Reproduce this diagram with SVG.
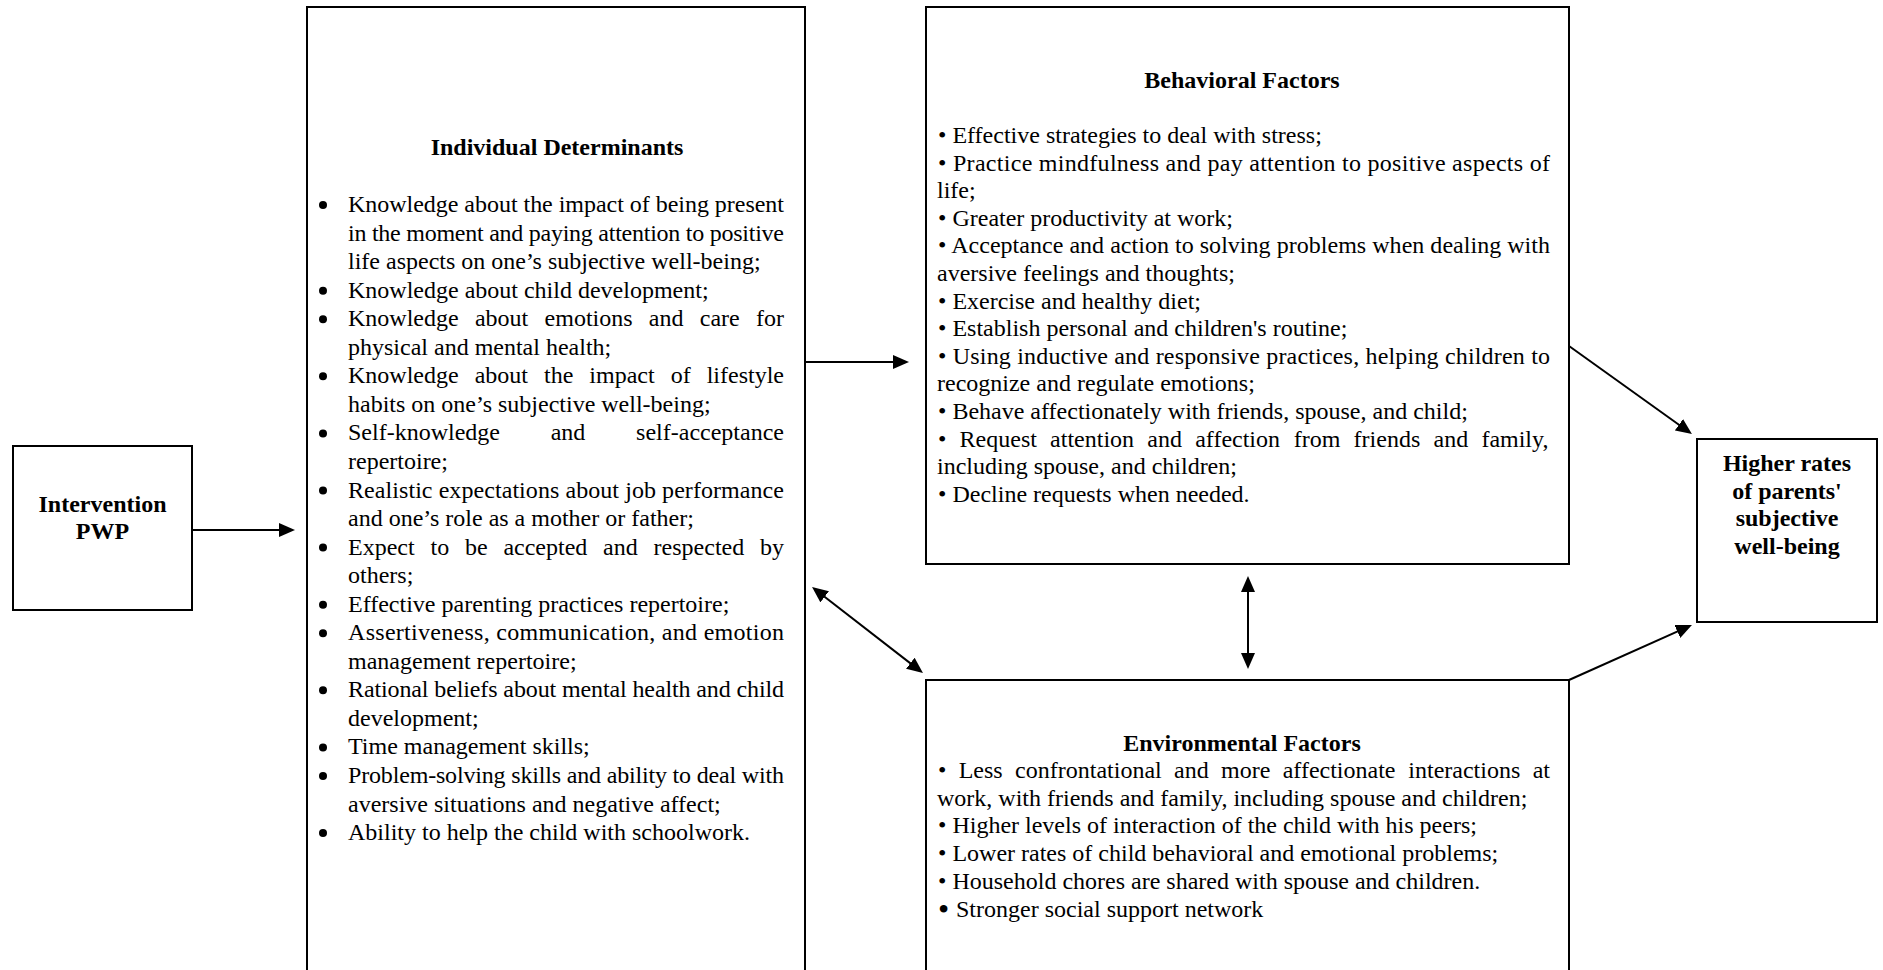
<svg xmlns="http://www.w3.org/2000/svg" width="1883" height="970" viewBox="0 0 1883 970">
  <style>
    .t { font-family: "Liberation Serif", "Times New Roman", serif; font-size: 24px; fill: #000; }
    .b { font-weight: bold; }
    .m { text-anchor: middle; }
    .bigdot { font-size: 32px; }
    .box { fill: #fff; stroke: #000; stroke-width: 2; }
    .c { stroke: #000; stroke-width: 2; fill: none; }
    .dot { fill: #000; }
  </style>
  <defs>
    <marker id="head" markerUnits="userSpaceOnUse" markerWidth="16" markerHeight="14" refX="12" refY="7" orient="auto-start-reverse">
      <path d="M0,0 L16,7 L0,14 Z" fill="#000"/>
    </marker>
  </defs>
  <rect width="1883" height="970" fill="#fff"/>

  <!-- connectors -->
  <g id="connectors">
    <line class="c" x1="192" y1="530" x2="291" y2="530" marker-end="url(#head)"/>
    <line class="c" x1="805" y1="362" x2="905" y2="362" marker-end="url(#head)"/>
    <line class="c" x1="815.2" y1="589.5" x2="919.8" y2="670.6" marker-start="url(#head)" marker-end="url(#head)"/>
    <line class="c" x1="1248" y1="580" x2="1248" y2="665" marker-start="url(#head)" marker-end="url(#head)"/>
    <line class="c" x1="1569" y1="346" x2="1688.7" y2="431.7" marker-end="url(#head)"/>
    <line class="c" x1="1569" y1="680" x2="1688.3" y2="626.6" marker-end="url(#head)"/>
  </g>

  <!-- intervention -->
  <g id="intervention">
    <rect class="box" x="13" y="446" width="179" height="164"/>
    <text class="t b m" x="102.5" y="512">Intervention</text>
    <text class="t b m" x="102.5" y="539">PWP</text>
  </g>

  <!-- individual determinants -->
  <g id="individual">
    <rect class="box" x="307" y="7" width="498" height="990"/>
    <text class="t b m" x="557" y="155">Individual Determinants</text>
    <!-- list bullets -->
    <g class="dot">
      <circle cx="323" cy="205" r="4"/>
      <circle cx="323" cy="290.65" r="4"/>
      <circle cx="323" cy="319.2" r="4"/>
      <circle cx="323" cy="376.3" r="4"/>
      <circle cx="323" cy="433.4" r="4"/>
      <circle cx="323" cy="490.5" r="4"/>
      <circle cx="323" cy="547.6" r="4"/>
      <circle cx="323" cy="604.7" r="4"/>
      <circle cx="323" cy="633.25" r="4"/>
      <circle cx="323" cy="690.35" r="4"/>
      <circle cx="323" cy="747.45" r="4"/>
      <circle cx="323" cy="776" r="4"/>
      <circle cx="323" cy="833.1" r="4"/>
    </g>
    <g class="t">
      <text x="348" y="212" textLength="436" lengthAdjust="spacing">Knowledge about the impact of being present</text>
      <text x="348" y="240.55" textLength="436" lengthAdjust="spacing">in the moment and paying attention to positive</text>
      <text x="348" y="269.1">life aspects on one’s subjective well-being;</text>
      <text x="348" y="297.65">Knowledge about child development;</text>
      <text y="326.2"><tspan x="348">Knowledge</tspan><tspan x="474.9">about</tspan><tspan x="544.6">emotions</tspan><tspan x="648.8">and</tspan><tspan x="699.8">care</tspan><tspan x="756">for</tspan></text>
      <text x="348" y="354.75">physical and mental health;</text>
      <text y="383.3"><tspan x="348">Knowledge</tspan><tspan x="474.7">about</tspan><tspan x="544">the</tspan><tspan x="589.3">impact</tspan><tspan x="670.7">of</tspan><tspan x="706.7">lifestyle</tspan></text>
      <text x="348" y="411.85">habits on one’s subjective well-being;</text>
      <text y="440.4"><tspan x="348">Self-knowledge</tspan><tspan x="550.7">and</tspan><tspan x="636.1">self-acceptance</tspan></text>
      <text x="348" y="468.95">repertoire;</text>
      <text x="348" y="497.5" textLength="436" lengthAdjust="spacing">Realistic expectations about job performance</text>
      <text x="348" y="526.05">and one’s role as a mother or father;</text>
      <text y="554.6"><tspan x="348">Expect</tspan><tspan x="430.5">to</tspan><tspan x="464.9">be</tspan><tspan x="503.4">accepted</tspan><tspan x="603.1">and</tspan><tspan x="653.6">respected</tspan><tspan x="760">by</tspan></text>
      <text x="348" y="583.15">others;</text>
      <text x="348" y="611.7">Effective parenting practices repertoire;</text>
      <text x="348" y="640.25" textLength="436" lengthAdjust="spacing">Assertiveness, communication, and emotion</text>
      <text x="348" y="668.8">management repertoire;</text>
      <text x="348" y="697.35" textLength="436" lengthAdjust="spacing">Rational beliefs about mental health and child</text>
      <text x="348" y="725.9">development;</text>
      <text x="348" y="754.45">Time management skills;</text>
      <text x="348" y="783" textLength="436" lengthAdjust="spacing">Problem-solving skills and ability to deal with</text>
      <text x="348" y="811.55">aversive situations and negative affect;</text>
      <text x="348" y="840.1">Ability to help the child with schoolwork.</text>
    </g>
  </g>

  <!-- behavioral factors -->
  <g id="behavioral">
    <rect class="box" x="926" y="7" width="643" height="557"/>
    <text class="t b m" x="1242" y="88">Behavioral Factors</text>
    <g class="t">
      <text x="938" y="143">• Effective strategies to deal with stress;</text>
      <text x="938" y="170.6" textLength="612" lengthAdjust="spacing">• Practice mindfulness and pay attention to positive aspects of</text>
      <text x="937" y="198.2">life;</text>
      <text x="938" y="225.8">• Greater productivity at work;</text>
      <text x="938" y="253.4" textLength="612" lengthAdjust="spacing">• Acceptance and action to solving problems when dealing with</text>
      <text x="937" y="281">aversive feelings and thoughts;</text>
      <text x="938" y="308.6">• Exercise and healthy diet;</text>
      <text x="938" y="336.2">• Establish personal and children's routine;</text>
      <text x="938" y="363.8" textLength="612" lengthAdjust="spacing">• Using inductive and responsive practices, helping children to</text>
      <text x="937" y="391.4">recognize and regulate emotions;</text>
      <text x="938" y="419">• Behave affectionately with friends, spouse, and child;</text>
      <text y="446.6"><tspan x="938">•</tspan><tspan x="959.6">Request</tspan><tspan x="1050.1">attention</tspan><tspan x="1147.3">and</tspan><tspan x="1195.2">affection</tspan><tspan x="1293.7">from</tspan><tspan x="1353.6">friends</tspan><tspan x="1433.5">and</tspan><tspan x="1481.4">family,</tspan></text>
      <text x="937" y="474.2">including spouse, and children;</text>
      <text x="938" y="501.8">• Decline requests when needed.</text>
    </g>
  </g>

  <!-- environmental factors -->
  <g id="environmental">
    <rect class="box" x="926" y="680" width="643" height="310"/>
    <text class="t b m" x="1242" y="751">Environmental Factors</text>
    <g class="t">
      <text y="778"><tspan x="938">•</tspan><tspan x="958.7">Less</tspan><tspan x="1015.1">confrontational</tspan><tspan x="1174.1">and</tspan><tspan x="1221.1">more</tspan><tspan x="1282.7">affectionate</tspan><tspan x="1408.3">interactions</tspan><tspan x="1532.7">at</tspan></text>
      <text x="937" y="806">work, with friends and family, including spouse and children;</text>
      <text x="938" y="833">• Higher levels of interaction of the child with his peers;</text>
      <text x="938" y="861">• Lower rates of child behavioral and emotional problems;</text>
      <text x="938" y="889">• Household chores are shared with spouse and children.</text>
      <text y="917"><tspan class="bigdot" x="938" dy="3">•</tspan><tspan x="956" dy="-3">Stronger social support network</tspan></text>
    </g>
  </g>

  <!-- outcome -->
  <g id="outcome">
    <rect class="box" x="1697" y="439" width="180" height="183"/>
    <text class="t b m" x="1787" y="471">Higher rates</text>
    <text class="t b m" x="1787" y="498.5">of parents'</text>
    <text class="t b m" x="1787" y="526">subjective</text>
    <text class="t b m" x="1787" y="553.5">well-being</text>
  </g>
</svg>
